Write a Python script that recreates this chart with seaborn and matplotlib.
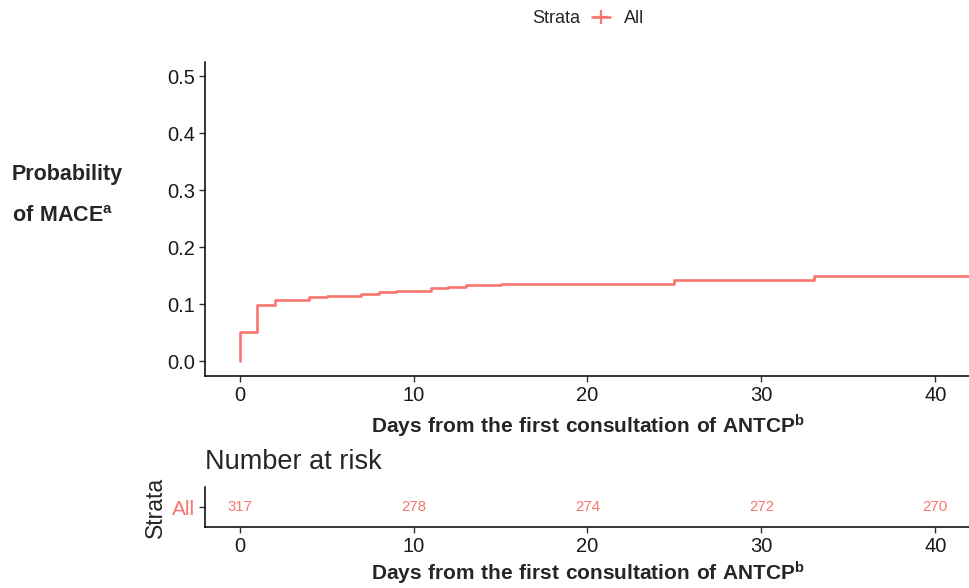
import numpy as np
import pandas as pd
import seaborn as sns
import matplotlib.pyplot as plt
from matplotlib.lines import Line2D

# cumulative incidence
days = [0, 0, 1, 2, 4, 5, 7, 8, 9, 11, 12, 13, 15, 25, 33, 42]
prob = [0.0, 0.051, 0.098, 0.108, 0.112, 0.115, 0.118, 0.121, 0.124,
        0.128, 0.131, 0.134, 0.136, 0.143, 0.149, 0.149]

# number at risk table
risk_days = [0, 10, 20, 30, 40]
risk_n = [317, 278, 274, 272, 270]

strata = 'All'
col = '#F8766D'

sns.set_style('white')
plt.rcParams['font.family'] = ['Liberation Sans', 'DejaVu Sans']
plt.rcParams['mathtext.fontset'] = 'custom'
plt.rcParams['mathtext.rm'] = 'Liberation Sans'
plt.rcParams['mathtext.bf'] = 'Liberation Sans:bold'

df = pd.DataFrame({'days': days, 'prob': prob})

fig = plt.figure(figsize=(9.7, 5.88), dpi=100)
ax = fig.add_axes([0.2113, 0.3605, 0.7887, 0.534])
rx = fig.add_axes([0.2113, 0.1037, 0.7887, 0.068])

sns.lineplot(data=df, x='days', y='prob', ax=ax, estimator=None, sort=False,
             drawstyle='steps-post', color=col, linewidth=1.9)

for a in (ax, rx):
    a.set_xlim(-2, 42)
    a.set_xticks([0, 10, 20, 30, 40])
    sns.despine(ax=a)
    for s in ('left', 'bottom'):
        a.spines[s].set_color('black')
        a.spines[s].set_linewidth(1.1)
    a.tick_params(axis='both', which='both', direction='out', length=4,
                  width=1, color='#333333', labelsize=14.5, labelcolor='#1a1a1a',
                  left=True, bottom=True, pad=3)

xlab = r'$\bf{Days\ from\ the\ first\ consultation\ of\ ANTCP^b}$'

ax.set_ylim(-0.026, 0.525)
ax.set_yticks([0.0, 0.1, 0.2, 0.3, 0.4, 0.5])
ax.set_yticklabels(['0.0', '0.1', '0.2', '0.3', '0.4', '0.5'])
ax.set_ylabel('')
ax.set_xlabel(xlab, fontsize=15, labelpad=6)

fig.text(0.012, 0.704, 'Probability', fontsize=15.5, fontweight='bold', va='center')
fig.text(0.012, 0.631, r'$\bf{of\ MACE^a}$', fontsize=15.5, va='center')

# legend at top
fig.text(0.598, 0.968, 'Strata', fontsize=13, va='center', ha='right')
h = Line2D([], [], color=col, linewidth=1.9, marker='+', markersize=10, markeredgewidth=1.6)
fig.legend(handles=[h], labels=[strata], loc='center left', bbox_to_anchor=(0.610, 0.968),
           frameon=False, fontsize=13, handlelength=1.0, handletextpad=0.8,
           borderaxespad=0, borderpad=0)

# risk table
rx.set_ylim(-0.5, 0.5)
rx.set_yticks([0])
rx.set_yticklabels([strata])
rx.get_yticklabels()[0].set_color(col)
rx.tick_params(axis='y', labelsize=15)
for d, n in zip(risk_days, risk_n):
    rx.text(d, 0, str(n), color=col, fontsize=10.8, ha='center', va='center')
rx.set_ylabel('Strata', fontsize=16.5, labelpad=4)
rx.set_title('Number at risk', fontsize=19.5, loc='left', pad=13)
rx.set_xlabel(xlab, fontsize=15, labelpad=3)

fig.savefig('out.png', dpi=100)
